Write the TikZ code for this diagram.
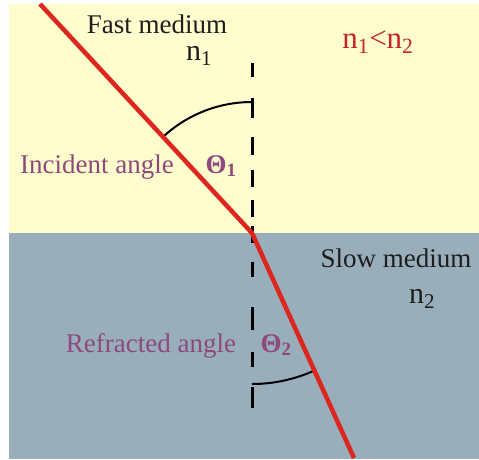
\documentclass[tikz,border=0pt]{standalone}
\usepackage{fontspec}
\setmainfont{Liberation Serif}
\usepackage{tikz}
\definecolor{FastMediumColor}{RGB}{255,252,205}
\definecolor{SlowMediumColor}{RGB}{152,174,186}
\definecolor{RayColor}{RGB}{220,38,30}
\definecolor{RatioColor}{RGB}{196,36,44}
\definecolor{AngleColor}{RGB}{142,74,124}
\definecolor{TextColor}{RGB}{30,30,30}

\begin{document}
\begin{tikzpicture}[x=1pt,y=-1pt,line join=round,
lbl/.style n args={2}{font=\rmfamily\fontsize{#1}{#1}\selectfont,text=#2,anchor=base,inner sep=0pt},
ray/.style={RayColor,line width=4.5pt},
normalline/.style={black,line width=3pt},
anglearc/.style={black,line width=2pt}]
\useasboundingbox (0,0) rectangle (479,459);
\fill[FastMediumColor] (9,4) rectangle (479,233);
\fill[SlowMediumColor] (9,233) rectangle (479,459);
\coordinate (P) at (252,233);
\coordinate (inc) at (40,4);
\coordinate (refr) at (354,458);
\foreach \a/\b in %
{63/77,98/118,137/155,170/187,200/217,226/243,262/277,307/330,352/367,387/408} {
   \draw[normalline] (252,\a) -- (252,\b);
}
\draw[anglearc] (P) ++(0,-131) arc[start angle=270,end angle=227.2,radius=131];
\draw[anglearc] (P) ++(0,151) arc[start angle=90,end angle=65.6,radius=151];
\draw[ray] (inc) -- (P) -- (refr);
   \node[lbl={27}{TextColor}](fast) at (157,33) {Fast medium};
   \node[lbl={30}{TextColor}](n1) at (199,60) {n\textsubscript{1}};
   \node[lbl={31}{RatioColor}](ratio) at (378,48) {n\textsubscript{1}<n\textsubscript{2}};
   \node[lbl={27}{AngleColor}](inclbl) at (97,173) {Incident angle};
   \node[lbl={27}{AngleColor},font=\rmfamily\fontsize{27}{27}\selectfont\bfseries](th1) at (221,173) {Θ\textsubscript{1}};
   \node[lbl={27}{TextColor}](slow) at (396,267) {Slow medium};
   \node[lbl={30}{TextColor}](n2) at (422,303) {n\textsubscript{2}};
   \node[lbl={27}{AngleColor}](refrlbl) at (151,352) {Refracted angle};
   \node[lbl={27}{AngleColor},font=\rmfamily\fontsize{27}{27}\selectfont\bfseries](th2) at (276,352) {Θ\textsubscript{2}};
\end{tikzpicture}
\end{document}
